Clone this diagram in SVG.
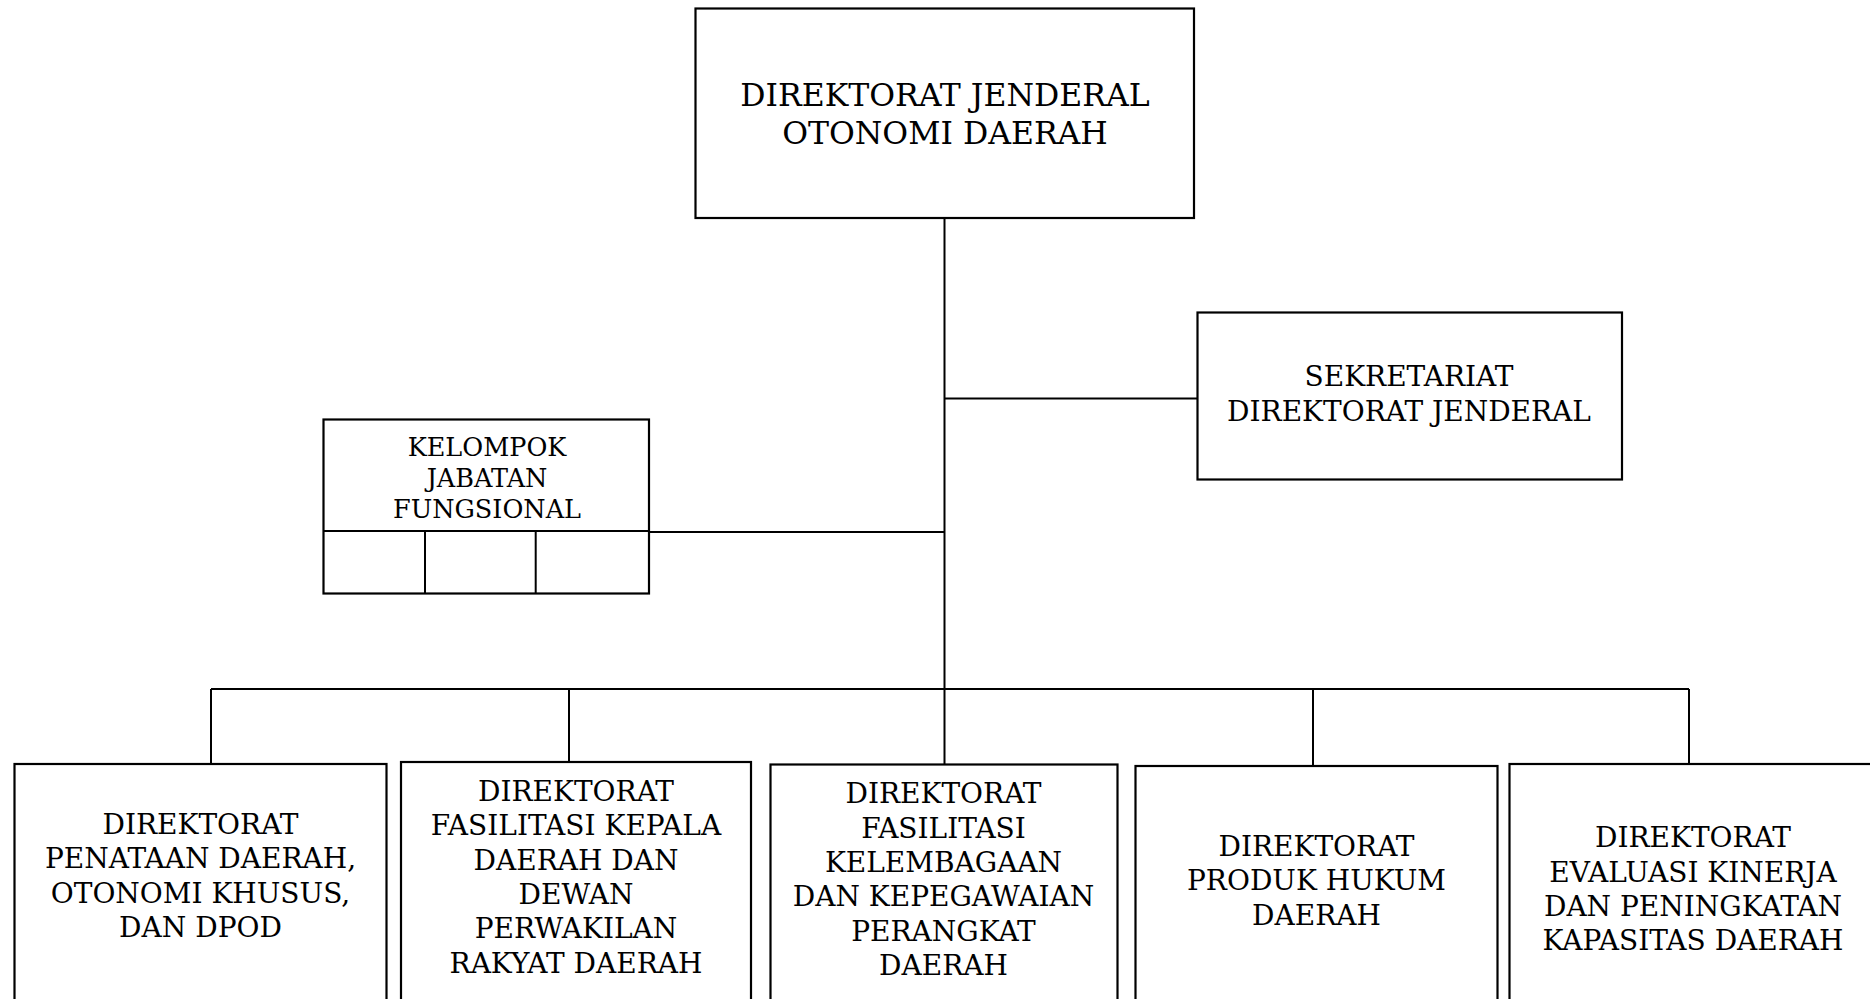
<svg xmlns="http://www.w3.org/2000/svg" width="1870" height="999" viewBox="0 0 1870 999">
<style>
.box{fill:#fff;stroke:#000;stroke-width:2.2}
.ln{fill:none;stroke:#000;stroke-width:2}
text{font-family:"DejaVu Serif","Liberation Serif",serif;fill:#000;text-anchor:middle}
.t1{font-size:31.5px}
.t2{font-size:28px}
.t3{font-size:25.5px}
</style>
<rect width="1870" height="999" fill="#fff"/>
<g id="connectors">
<line class="ln" x1="944.5" y1="218" x2="944.5" y2="768" stroke-width="1.7"/>
<line class="ln" x1="944.5" y1="398.5" x2="1197.5" y2="398.5"/>
<line class="ln" x1="649" y1="532" x2="944.5" y2="532"/>
<line class="ln" x1="211" y1="689" x2="1689" y2="689"/>
<line class="ln" x1="211" y1="689" x2="211" y2="764"/>
<line class="ln" x1="569" y1="689" x2="569" y2="762"/>
<line class="ln" x1="1313" y1="689" x2="1313" y2="766"/>
<line class="ln" x1="1689" y1="689" x2="1689" y2="764"/>
</g>
<g id="dirjen">
<rect class="box" x="695.5" y="8.5" width="498.5" height="209.5"/>
<text class="t1" x="945" y="106">DIREKTORAT JENDERAL</text>
<text class="t1" x="945" y="144">OTONOMI DAERAH</text>
</g>
<g id="sekretariat">
<rect class="box" x="1197.5" y="312.5" width="424.5" height="167"/>
<text class="t2" x="1409" y="386">SEKRETARIAT</text>
<text class="t2" x="1409" y="421">DIREKTORAT JENDERAL</text>
</g>
<g id="kelompok">
<rect class="box" x="323.5" y="419.5" width="325.5" height="174"/>
<line class="ln" x1="323.5" y1="531" x2="649" y2="531"/>
<line class="ln" x1="425" y1="531" x2="425" y2="593.5"/>
<line class="ln" x1="535.7" y1="531" x2="535.7" y2="593.5"/>
<text class="t3" x="487" y="456">KELOMPOK</text>
<text class="t3" x="487" y="487">JABATAN</text>
<text class="t3" x="487" y="518">FUNGSIONAL</text>
</g>
<g id="dir1">
<rect class="box" x="14.5" y="764" width="372" height="250"/>
<text class="t2" x="200.5" y="834">DIREKTORAT</text>
<text class="t2" x="200.5" y="868.3">PENATAAN DAERAH,</text>
<text class="t2" x="200.5" y="902.6">OTONOMI KHUSUS,</text>
<text class="t2" x="200.5" y="936.9">DAN DPOD</text>
</g>
<g id="dir2">
<rect class="box" x="401" y="762" width="350" height="252"/>
<text class="t2" x="576" y="801">DIREKTORAT</text>
<text class="t2" x="576" y="835.3">FASILITASI KEPALA</text>
<text class="t2" x="576" y="869.6">DAERAH DAN</text>
<text class="t2" x="576" y="903.9">DEWAN</text>
<text class="t2" x="576" y="938.2">PERWAKILAN</text>
<text class="t2" x="576" y="972.5">RAKYAT DAERAH</text>
</g>
<g id="dir3">
<rect class="box" x="770.5" y="764.5" width="347" height="250"/>
<text class="t2" x="943.5" y="803.3">DIREKTORAT</text>
<text class="t2" x="943.5" y="837.6">FASILITASI</text>
<text class="t2" x="943.5" y="871.9">KELEMBAGAAN</text>
<text class="t2" x="943.5" y="906.2">DAN KEPEGAWAIAN</text>
<text class="t2" x="943.5" y="940.5">PERANGKAT</text>
<text class="t2" x="943.5" y="974.8">DAERAH</text>
</g>
<g id="dir4">
<rect class="box" x="1135.5" y="766" width="362" height="248"/>
<text class="t2" x="1316.5" y="856">DIREKTORAT</text>
<text class="t2" x="1316.5" y="890.3">PRODUK HUKUM</text>
<text class="t2" x="1316.5" y="924.6">DAERAH</text>
</g>
<g id="dir5">
<rect class="box" x="1509.5" y="764" width="375" height="250"/>
<text class="t2" x="1693" y="847.3">DIREKTORAT</text>
<text class="t2" x="1693" y="881.6">EVALUASI KINERJA</text>
<text class="t2" x="1693" y="915.9">DAN PENINGKATAN</text>
<text class="t2" x="1693" y="950.2">KAPASITAS DAERAH</text>
</g>
</svg>
